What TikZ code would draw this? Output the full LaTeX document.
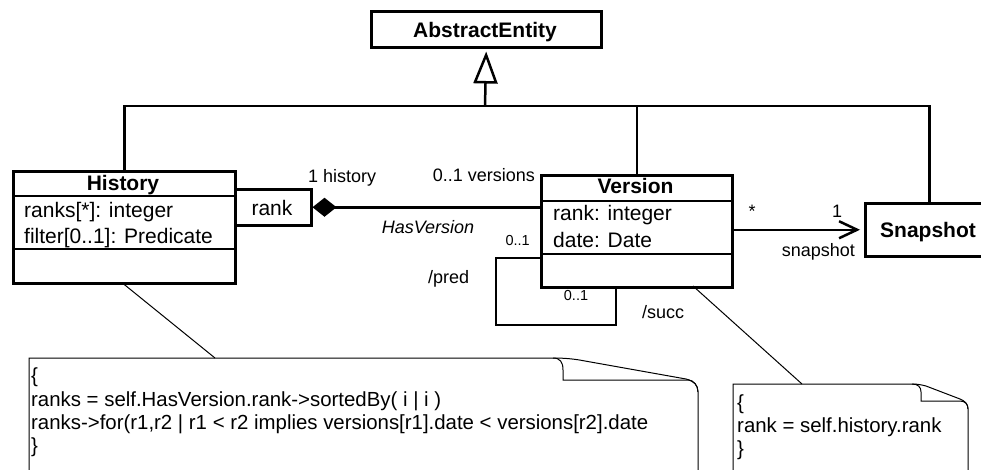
\documentclass[tikz,border=0pt]{standalone}
\usepackage{fontspec}
\setmainfont{Liberation Sans}
\usetikzlibrary{arrows.meta}
\begin{document}
\begin{tikzpicture}[x=1pt,y=-1pt,
 cls/.style={draw, line width=2.5pt, inner sep=0pt, anchor=north west},
 assoc/.style={line width=2.5pt},
 sep/.style={line width=2.5pt},
 thinl/.style={line width=1pt},
 lbl/.style={inner sep=0pt, font=\fontsize{18}{20}\selectfont},
 mult/.style={inner sep=0pt, font=\fontsize{14.5}{16}\selectfont},
 attr/.style={inner sep=0pt, anchor=base west, font=\fontsize{21}{24}\selectfont},
 ntxt/.style={inner sep=0pt, anchor=base west, font=\fontsize{20.4}{23}\selectfont},
 ttl/.style={inner sep=0pt, anchor=base, font=\bfseries\fontsize{21}{24}\selectfont}]
\useasboundingbox (0,0) rectangle (981,469);

% classes
\node[cls, minimum width=230pt, minimum height=36pt] (abs) at (370,10) {};
\node[ttl] (absT) at (485,37) {AbstractEntity};

\node[cls, minimum width=222pt, minimum height=112pt] (hist) at (12,170) {};
\node[ttl] (histT) at (123,190) {History};
\draw[sep] (12,196) -- (234,196);
\draw[sep] (12,249) -- (234,249);
\node[attr] (h1) at (24,217) {ranks[*]: integer};
\node[attr] (h2) at (24,243) {filter[0..1]: Predicate};

\node[cls, minimum width=76pt, minimum height=36pt] (rank) at (234,188) {};
\node[attr, anchor=base] (rankT) at (272,215) {rank};

\node[cls, minimum width=191pt, minimum height=112pt] (ver) at (540,174) {};
\node[ttl] (verT) at (635.5,193) {Version};
\draw[sep] (540,201) -- (731,201);
\draw[sep] (540,254) -- (731,254);
\node[attr] (v1) at (553,220) {rank: integer};
\node[attr] (v2) at (553,247) {date: Date};

\node[cls, minimum width=128pt, minimum height=53pt] (snap) at (864,202) {};
\node[ttl] (snapT) at (928,237) {Snapshot};

% generalization
\coordinate (bar) at (485,106);
\draw[assoc] (hist.north) |- (bar);
\draw[assoc] (ver.north) |- (bar);
\draw[assoc] (snap.north) |- (bar);
\draw[assoc, -{Triangle[open, length=32pt, width=24pt, line width=2.5pt]}, shorten >=3pt] (bar) -- (abs.south);

% HasVersion
\draw[assoc, {Diamond[length=24pt, width=19pt]}-] (rank.east) -- (rank.east -| ver.west);
\node[lbl, anchor=base west] (m1) at (308,182) {1 history};
\node[lbl, anchor=base east] (m2) at (535,181) {0..1 versions};
\node[lbl, anchor=base, font=\itshape\fontsize{18}{20}\selectfont] (hv) at (428,233) {HasVersion};

% self loop
\coordinate (l1) at (496,258);
\coordinate (l2) at (496,325);
\coordinate (l3) at (616,325);
\draw[assoc] (ver.west |- l1) -- (l1) -- (l2) -- (l3) -- (ver.south -| l3);
\node[mult, anchor=base east] (p1) at (530,245) {0..1};
\node[lbl, anchor=base west] (pr) at (428,283) {/pred};
\node[mult, anchor=base] (p2) at (576,300) {0..1};
\node[lbl, anchor=base west] (sc) at (642,318) {/succ};

% snapshot association
\draw[assoc, -{Straight Barb[length=18pt, width=17pt, line width=2.5pt]}, shorten >=4pt] (snap.west -| ver.east) -- (snap.west);
\node[lbl, anchor=base] (s1) at (752,217) {*};
\node[lbl, anchor=base] (s2) at (837,217) {1};
\node[lbl, anchor=base east] (s3) at (855,256) {snapshot};

% notes
\draw[thinl] (29,480) -- (29,358) -- (553,358) .. controls (565,358) and (575,359) .. (585,361) -- (686,379) .. controls (694,381) and (698,385) .. (698,392) -- (698,480);
\draw[thinl] (553,358) .. controls (560,358) and (563,362) .. (563,370) -- (563,380) -- (688,380) .. controls (694,380) and (698,386) .. (698,392);
\coordinate (n1) at (215,358);
\draw[thinl] (hist.south) -- (n1);
\node[ntxt] (t1) at (31,382) {\{};
\node[ntxt] (t2) at (31,406) {ranks = self.HasVersion.rank->sortedBy( i | i )};
\node[ntxt] (t3) at (31,429) {ranks->for(r1,r2 | r1 < r2 implies versions[r1].date < versions[r2].date};
\node[ntxt] (t4) at (31,452) {\}};

\draw[thinl] (733,480) -- (733,384) -- (912,384) .. controls (918,384) and (922,385) .. (926,386) -- (960,399) .. controls (965,401) and (968,404) .. (968,409) -- (968,480);
\draw[thinl] (912,384) .. controls (918,384) and (921,387) .. (921,392) -- (921,401) -- (960,401) .. controls (965,401) and (968,404) .. (968,409);
\coordinate (vs) at (693,286);
\coordinate (n2) at (802,384);
\draw[thinl] (vs) -- (n2);
\node[ntxt] (u1) at (737,409) {\{};
\node[ntxt] (u2) at (737,432) {rank = self.history.rank};
\node[ntxt] (u3) at (737,455) {\}};
\end{tikzpicture}
\end{document}
